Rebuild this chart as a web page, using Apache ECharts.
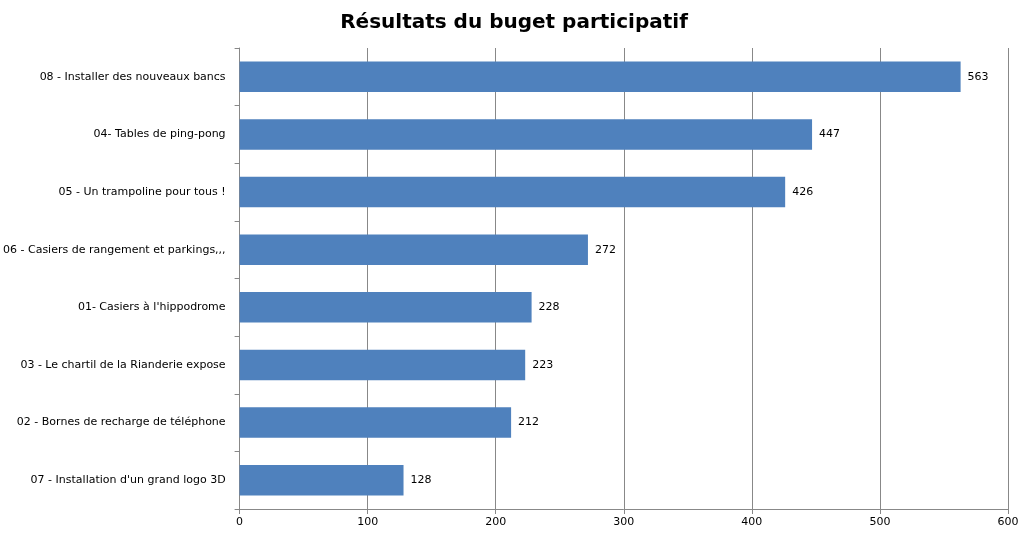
<!DOCTYPE html>
<html lang="fr">
<head>
    <meta charset="UTF-8">
    <title>Résultats du buget participatif</title>
    <script src="https://cdn.jsdelivr.net/npm/echarts@6/dist/echarts.min.js"></script>
    <style>
        html, body { margin: 0; padding: 0; background: #fff; }
        #main { width: 1028px; height: 538px; }
    </style>
</head>
<body>
<div id="main"></div>
<script>
    // projects, top to bottom as in the picture
    const categories = [
        '08 - Installer des nouveaux bancs',
        '04- Tables de ping-pong',
        '05 - Un trampoline pour tous !',
        '06 - Casiers de rangement et parkings,,,',
        "01- Casiers à l'hippodrome",
        '03 - Le chartil de la Rianderie expose',
        '02 - Bornes de recharge de téléphone',
        "07 - Installation d'un grand logo 3D"
    ]
    const votes = [563, 447, 426, 272, 228, 223, 212, 128]

    const chart = echarts.init(document.getElementById('main'))
    chart.setOption({
        animation: false,
        textStyle: {fontFamily: 'DejaVu Sans, sans-serif'},
        title: {
            text: 'Résultats du buget participatif',
            left: 'center',
            top: 8,
            textStyle: {fontSize: 20, fontWeight: 'bold', color: '#000', fontFamily: 'DejaVu Sans, sans-serif'}
        },
        grid: {left: 231, right: 20, top: 48, bottom: 29},
        xAxis: {
            type: 'value',
            min: 0, max: 600, interval: 100,
            axisLine: {show: true, lineStyle: {color: '#888'}},
            axisTick: {show: true, length: 5, lineStyle: {color: '#888'}},
            axisLabel: {color: '#000', fontSize: 11},
            splitLine: {show: true, lineStyle: {color: '#888', width: 1}}
        },
        yAxis: {
            type: 'category',
            data: categories,
            inverse: true,
            axisLine: {show: true, lineStyle: {color: '#888'}},
            axisTick: {show: true, length: 5, lineStyle: {color: '#888'}},
            axisLabel: {color: '#000', fontSize: 11, margin: 14}
        },
        series: [{
            type: 'bar',
            data: votes,
            barWidth: '53%',
            itemStyle: {color: '#4f81bd'},
            label: {show: true, position: 'right', distance: 7, color: '#000', fontSize: 11}
        }]
    })
</script>
</body>
</html>
